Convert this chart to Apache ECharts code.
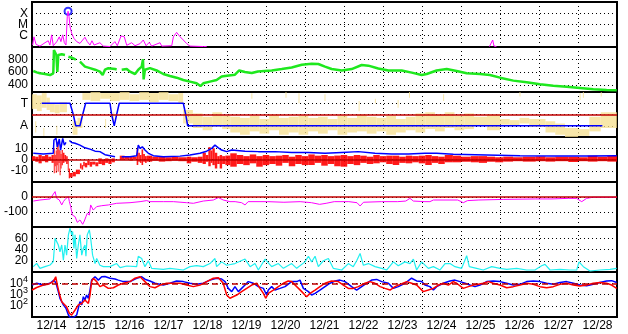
<!DOCTYPE html>
<html><head><meta charset="utf-8">
<script src="https://cdn.jsdelivr.net/npm/echarts@6/dist/echarts.min.js"></script>
<style>html,body{margin:0;padding:0;background:#fff}#c{width:628px;height:334px}</style>
</head><body><div id="c"></div><script>
// time in hours since 12/14 00:00
const dayLabels = ['12/14','12/15','12/16','12/17','12/18','12/19','12/20','12/21','12/22','12/23','12/24','12/25','12/26','12/27','12/28'];
const xrayTickLabels = {'-6':'C','-5':'M','-4':'X'};
const speedTicks = [400,600,800];
const polarityTickLabels = {'1':'T','-1':'A'};

const xrayFlux = [[0.4,1.5e-7],[1.2,8e-7],[2.5,1.7e-7],[4.9,1.2e-7],[8,2.4e-7],[10,3.6e-7],[11,1.5e-7],[12.1,1.2e-6],[13.1,1.3e-7],[15.2,2.9e-7],[16.8,8e-7],[17.8,3e-7],[18.9,1.2e-6],[19.9,2.4e-7],[20.9,1.5e-7],[21.7,4.9e-5],[22.2,1.5e-4],[22.8,4.9e-5],[23.4,6.3e-6],[24.4,1.7e-6],[25.8,5.9e-7],[27.5,3e-7],[29.5,2.1e-7],[31.2,4.2e-7],[32.6,7.3e-7],[34,3e-7],[35.7,1.5e-7],[36.9,3.6e-7],[38.2,1.5e-7],[41.8,2.4e-7],[42.7,3e-7],[43.9,1.2e-7],[48,1.1e-7],[51,3e-7],[52.5,1.3e-7],[54.8,9.5e-7],[56.8,8e-7],[58.3,1.4e-7],[61.3,2.4e-7],[63.4,1.3e-7],[66.5,2e-7],[68.5,4.2e-7],[70.2,1.3e-7],[72.2,2.6e-7],[73.6,1.2e-7],[78.8,2.4e-7],[79.8,1.2e-7],[86,1.3e-7],[87,8e-7],[89,2e-6],[91,8.5e-7],[93.1,4.2e-7],[95.2,2e-7],[96.4,3e-7],[97.2,1.2e-7],[105.5,1.1e-7],[106.5,1.5e-7],[107.5,1.1e-7],[108,null],[281.5,1.1e-7],[282.5,1.5e-7],[283.5,4.2e-7],[284.3,1.2e-7],[285.1,1.8e-7],[285.8,1.1e-7]];
const flarePeak = [[22.2,1.5e-4]];

const windSpeed = [[0.8,617],[2.9,596],[4.9,581],[8,570],[11.1,554],[13.1,581],[13.5,943],[14.4,955],[15.0,865],[15.6,601],[16.2,865],[16.8,876],[18.3,876],[20.3,865],[21,null],[22.4,839],[24.5,823],[27,795],[27.5,null],[29.5,762],[32.6,684],[35.7,661],[38.8,637],[41.8,607],[43.5,554],[44.9,637],[47,661],[51.1,647],[52.1,640],[53,null],[55.2,637],[58.3,647],[60.3,607],[63.4,570],[65.4,637],[67.5,684],[68.3,799],[68.7,487],[69.5,637],[72.6,661],[76.7,625],[80.8,570],[84.9,539],[89,513],[93.1,477],[97.2,451],[101.3,425],[103.7,383],[105.4,425],[109.5,451],[113.6,477],[116.7,530],[118.8,539],[124.9,560],[127.5,625],[131,600],[135.2,585],[139,610],[143,617],[147.5,625],[153.7,647],[159.8,672],[166,715],[172.1,731],[176.2,726],[180.3,684],[184.4,647],[190.6,625],[196.7,647],[202.9,710],[207,700],[213.1,656],[219.3,625],[227.5,625],[233.7,591],[239.8,554],[242.9,570],[249,625],[255.2,647],[261.3,617],[267.5,581],[275.7,570],[281.8,554],[288,513],[296.2,467],[304.4,441],[312.6,410],[320.8,389],[329,373],[337.2,353],[345.4,332],[353.6,322],[359.8,316]];

const sectorPolarity = [[6,1],[23.4,1],[25.4,0],[26.9,-1],[29.5,-1],[31.2,0],[33,1],[48,1],[49,0],[50.6,-1],[52.1,0],[53.7,1],[93.1,1],[94.6,0],[95.8,-1],[351,-1]];
// [start h, end h, low, high]
const polarityScatter = [[0,3,0.5,1.8],[3,6,0.3,1.7],[6,9,0.6,1.9],[9,11,0.4,1.5],[11,14,0.2,1.0],[14,17,0.1,0.9],[17,21.5,0.2,1.1],[25,28,-1.8,-0.6],[28,31,-1.2,-0.3],[31,36,1.3,1.9],[36,42,1.2,2.0],[42,48,1.4,1.9],[48,54,1.2,1.9],[54,60,1.3,2.0],[60,66,1.2,1.8],[66,72,1.3,2.0],[72,78,1.1,1.9],[78,84,1.3,2.0],[84,90,1.2,1.8],[90,93,1.0,1.9],[93,99,-0.8,0.4],[99,105,-1.2,0.1],[105,111,-1.4,-0.2],[111,117,-1.1,0.2],[117,122,-1.3,-0.1],[122,128,-1.6,-0.2],[128,134,-1.8,-0.3],[134,140,-1.5,-0.1],[140,146,-1.7,-0.4],[146,152,-1.4,0.0],[152,158,-1.8,-0.3],[158,164,-1.6,-0.2],[164,170,-1.8,-0.1],[170,176,-1.5,-0.3],[176,182,-1.7,-0.2],[182,188,-1.4,-0.4],[188,194,-1.8,-0.1],[194,200,-1.6,-0.3],[200,206,-1.5,0.0],[206,212,-1.7,-0.2],[212,218,-1.5,-0.3],[218,224,-1.8,-0.1],[224,230,-1.6,-0.4],[230,236,-1.4,-0.2],[236,242,-1.6,0.1],[242,248,-1.3,0.2],[248,254,-1.5,0.0],[254,260,-1.2,0.2],[260,266,-1.4,-0.1],[266,272,-1.3,0.1],[272,280,-1.0,-0.2],[280,288,-1.4,0.0],[288,294,-0.9,-0.4],[294,300,-1.0,-0.5],[300,306,-0.8,-0.3],[306,316,-1.1,-0.4],[316,322,-1.6,-0.6],[322,328,-1.8,-0.8],[328,336,-2.0,-1.2],[336,343,-1.9,-1.3],[343,350,-1.5,-0.2],[350,360,-1.2,0.2]];
const polarityOutliers = [[2,2.6,-1.6,-0.6],[7,7.6,-1.9,-1.2],[15,15.6,-1.8,-1.0],[45,45.6,-1.2,-0.4],[50,50.6,-0.6,0.2],[135,135.6,1.4,1.9],[156,156.6,1.5,2.0],[164,164.6,1.0,1.9],[180,180.6,1.2,1.8],[201,201.6,0.3,1.2],[211,211.6,1.0,1.4],[225,225.6,0.6,1.3],[232,232.6,1.5,2.0],[253,253.6,1.2,1.8],[300,300.6,1.6,2.0],[337,337.6,1.3,1.9],[339,339.6,1.5,2.0],[350,350.6,1.6,2.0]];

const imfBt = [[0.8,5.5],[7,4.9],[13.1,5.5],[13.5,17.3],[14.8,18.8],[15.6,11.3],[16.8,18.2],[17.6,8.4],[18.9,18.8],[19.9,12.8],[20.9,15.2],[21.5,null],[23,16.9],[24.4,15.2],[26.5,14.5],[29.5,12.8],[32.6,10.4],[35.7,9.2],[38.8,7.4],[41.8,7],[44.9,4.3],[48,3.4],[51.1,2.5],[52,null],[55.2,2.5],[60.3,2.5],[64.4,3.4],[65.4,12.8],[66.5,9.9],[67.9,11.3],[69.5,8.4],[71.6,5.5],[74.7,3.4],[80.8,2.5],[91.1,3.0],[97.2,4],[103.4,5.5],[107.5,7.4],[110.6,9.9],[112.6,12.8],[114.7,10.4],[116.7,8.4],[119.8,7],[122.9,8.4],[131.1,7.4],[139.3,7],[149.5,7],[159.8,6.3],[170.1,6.3],[180.3,5.5],[190.6,6.3],[200.8,7],[211.1,5.5],[221.4,4.9],[231.6,4.9],[241.8,5.5],[249,5.5],[259.3,4.6],[279.8,4],[300.3,3.4],[320.8,3.1],[341.3,3.1],[359.8,3.4]];
// [start h, end h, low, high]
const imfBz = [[0,2,-1,3],[2,4,-2,2.5],[4,6,-3.4,4],[6,8,-1.5,3],[8,10,-2.5,4],[10,12,-1,2.5],[12,13.4,-3,4],[13.4,14,-12.3,9.9],[14,14.6,-6,4],[14.6,15.2,-12,8],[15.2,15.8,-5,15.8],[15.8,16.4,-10.8,14],[16.4,17,-3,9],[17,17.6,-14,8],[17.6,18.2,-8,5],[18.2,19,-5,8.4],[19,20,-3,6],[20,21,-1.9,4],[21,22,-4,3],[22,22.6,-10,-1],[22.6,23.4,-16.7,-8],[23.4,25,-16,-12],[25,27,-15,-11],[27,29.5,-13,-9],[29.5,30.5,-8,-3.4],[30.5,31.5,-9,-5],[31.5,32.5,-6,-2],[32.5,34,-7,-3],[34,35.5,-5,-1],[35.5,37,-6.4,-2],[37,39,-4.5,-1.9],[39,40.8,-6,-2.5],[40.8,43,-4,1],[43,45,-5,0],[45,47,-3,1],[47,49,-4,0.5],[49,51,-2.5,1],[54,57,-0.4,3.4],[57,60,0,2.5],[60,62,-1,3],[62,64.4,0,2.5],[64.4,65.4,-4.9,9.9],[65.4,66.4,-2,6],[66.4,67.4,-3,4],[67.4,68.4,-4.9,9],[68.4,69.5,-2,5],[69.5,70.6,-3,3],[70.6,74,-1.9,3.4],[74,78,-1,2.5],[78,82,-1.9,3],[82,86,-1.5,2],[86,90,-1,2.5],[90,95.2,-1.5,2],[95.2,98,-3.4,2.5],[98,102,-2,2],[102,105,-3,2.5],[105,107,-4,6],[107,108.5,-2,4],[108.5,110,-6,11],[110,111,-3,8],[111,112.5,-5,10],[112.5,114,-8,6],[114,115.5,-4,3],[115.5,117,-8,4],[117,119,-4,3],[119,122,-5,3.5],[122,126,-6.4,5.5],[126,130,-4,4],[130,134,-5,3],[134,138,-3.4,4.5],[138,142,-6.4,3],[142,146,-5,4],[146,150,-4,3],[150,154,-5.5,3.4],[154,158,-3,4],[158,162,-6,2.5],[162,166,-4,4],[166,170,-5,3],[170,174,-4.9,4.5],[174,178,-3,3.4],[178,182,-5.5,4],[182,186,-4,3],[186,190,-6,3.5],[190,194,-6.4,4],[194,198,-4,3],[198,202,-5,4],[202,206,-3,3.4],[206,210,-4,2.5],[210,214,-3.4,4],[214,218,-2.5,3],[218,222,-4,3.4],[222,226,-4.9,3.4],[226,230,-3,2.5],[230,234,-3.4,3.4],[234,238,-2.5,3],[238,242,-3.4,3.4],[242,246,-4.9,4],[246,250,-3,3],[250,254,-4,2.5],[254,259,-2.5,4],[259,264,-2.5,3.4],[264,270,-2,2.5],[270,275,-2.5,3],[275,280,-3,3],[280,285,-2,2.5],[285,290,-2.5,2],[290,296,-1.9,2.5],[296,302,-1.5,2],[302,310,-1.9,2.5],[310,316,-1.5,2.8],[316,322,-1.9,2],[322,330,-1.5,2.5],[330,336,-2.2,2.5],[336,342,-1.5,2],[342,348,-1.9,3.4],[348,354,-1.5,2.5],[354,360,-1.9,3.4]];

const dst = [[0.8,-27],[4.9,-20],[11.1,-13],[14.2,36],[15.2,-9],[16.8,-20],[18.3,-53],[19.3,-31],[20.9,-9],[22.4,2],[23.0,-31],[23.8,-64],[24.8,-120],[26.5,-131],[27.9,-169],[29.5,-153],[31.2,-182],[32.2,-160],[33.2,-131],[34.0,-109],[35.3,-120],[36.1,-53],[37.7,-87],[39.8,-64],[42.9,-58],[47.0,-53],[52.1,-42],[60.3,-38],[66.5,-31],[70.6,-24],[72.6,-31],[80.8,-31],[87,-31],[95.2,-38],[99.3,-42],[105.4,-27],[111.6,-20],[114.7,-4],[117.7,-20],[121.8,-31],[125,-31],[129,-38],[131.1,-53],[133,-31],[145,-31],[155,-35],[165,-31],[172,-38],[177,-49],[181,-42],[186,-31],[195,-31],[200,-38],[201.9,-60],[204,-35],[215,-31],[225,-31],[230,-27],[232.6,-9],[234.7,-27],[241.8,-31],[244.9,-31],[247,-20],[262,-20],[265.4,-38],[268,-24],[275,-20],[290,-16],[310,-13],[320,-13],[330,-9],[335,-9],[338.3,-31],[341.3,-9],[345,-2],[360,-2]];

const cyanIndex = [[0.8,9.5],[2.9,15.4],[4.9,6.5],[8.0,9.5],[11.1,12.4],[13.1,18.4],[14.2,60],[15.2,54],[16.2,48],[17.2,36],[18.3,48],[19.3,21],[20.3,48],[21.3,30],[22.4,66],[23.4,78],[24.4,66],[25.0,72],[25.8,42],[26.5,66],[27.5,24],[28.5,48],[29.5,66],[30.6,30],[31.6,42],[32.6,48],[33.2,28],[34.0,66],[35.3,75],[36.1,60],[37.3,30],[38.8,15],[39.8,24],[41.8,12],[43.9,9.5],[48.0,9.5],[52.1,15],[54.2,7.7],[58.3,10.7],[64.4,9.5],[65.4,28],[67.5,24],[69.5,9.5],[71.6,20],[73.6,6.5],[80.8,4.7],[84.9,6.5],[93.1,3.6],[97.2,9.5],[101.3,11.3],[105.4,9.5],[109.5,15],[112.6,24],[113.6,9.5],[116.7,18],[119.8,12],[120.8,15],[124.9,15],[131.1,23],[134.2,9.5],[137.2,15],[139.3,3.6],[143.4,23],[147.5,9.5],[151.6,15],[154.7,6.5],[159.8,15],[162.9,6.5],[168,18],[170.1,28],[172.1,18],[174.2,28],[176.2,9.5],[179.3,20],[182.4,24],[185.4,6.5],[190.6,3.6],[194.7,15],[197.7,9.5],[199.8,20],[201.9,33],[203.9,12],[207,15],[211.1,9.5],[215.2,6.5],[218.3,3.6],[222.4,18],[225.4,11],[229.5,18],[232.6,15],[234.7,23],[236.7,3.6],[239.8,18],[243.9,6.5],[247,9.5],[251.1,3.6],[254.2,15],[257.2,15],[260.3,9.5],[264.4,6.5],[267.5,29],[269.1,9.5],[273.6,6.5],[277.7,3.6],[282.9,9.5],[288,6.5],[292.1,4.7],[298.3,6.5],[304.4,3.6],[309.5,3.6],[313.6,11],[315.7,13.6],[318.8,3.6],[324.9,4.7],[331.1,3.6],[335.2,3.6],[336.6,18],[339.3,9.5],[343.4,1.8],[349.5,3.6],[355.7,4.7],[359.8,6.5]];

const electronBlue = [[0,6.9e3],[2.9,1e4],[7,6.9e3],[11.1,1e4],[13.5,1.9e4],[14.8,1e4],[16.2,1.8e3],[17.2,4.6e2],[18.3,2.3e2],[19.3,1.2e2],[20.9,59],[22.4,15],[23.4,9],[25.4,9],[27.5,15],[28.5,59],[29.5,230],[30.6,120],[31.6,630],[32.6,320],[33.6,900],[34.7,460],[35.7,2.5e3],[36.7,1.9e4],[38.8,3.8e4],[40.8,1.9e4],[42.9,3.8e4],[44.9,4e4],[48,2.8e4],[51.1,2.4e4],[53.1,1.9e4],[56.2,1.4e4],[60.3,1.4e4],[64.4,2.8e4],[67.5,3.8e4],[69.5,2.3e4],[72.6,1.6e4],[75.7,1e4],[80.8,6.9e3],[84.9,1e4],[89,1.6e4],[93.1,1.4e4],[97.2,1e4],[101.3,8e3],[105.4,1e4],[109.5,1.9e4],[113.6,2.8e4],[116.7,2.4e4],[118.8,1.4e4],[120.8,3.5e3],[122.9,1.8e3],[124.9,5e3],[127,1.8e3],[129,3.5e3],[131.1,6.9e3],[133.1,1.4e4],[136.2,1e4],[139.3,5e3],[142.4,3.5e3],[144.4,9e2],[145.4,2.5e3],[147.5,5e3],[149.5,2.5e3],[152.6,3.5e3],[155.7,5e3],[159.8,1.4e4],[162.9,1.4e4],[164.9,1.9e4],[167,3.5e3],[170.1,1.8e3],[172.1,9e2],[174.2,1.26e3],[177.2,2.5e3],[180.3,5e3],[183.4,1e4],[186.5,1.6e4],[189.5,1.9e4],[192.6,1.4e4],[196.7,5e3],[199.8,2.5e3],[202.9,5e3],[206,1e4],[209,1.9e4],[212.1,2.2e4],[215.2,1.4e4],[219.3,1e4],[222.4,3.5e3],[225.4,5e3],[229.5,1e4],[233.6,2.8e4],[236.7,1.6e4],[239.8,1.4e4],[241.8,6.9e3],[244.9,5e3],[247,2.5e3],[249,5e3],[253.1,1e4],[257.2,1.6e4],[260.3,1.9e4],[263.4,1.4e4],[266.5,1e4],[269.5,6.9e3],[272.6,5e3],[275.7,6.9e3],[279.8,1.4e4],[283.9,1.6e4],[288,1.4e4],[292.1,1e4],[296.2,6.9e3],[300.3,8e3],[304.4,1.4e4],[308.5,1.6e4],[312.6,1.4e4],[316.7,1e4],[320.8,8e3],[324.9,1.15e4],[329,1.4e4],[333.1,1e4],[337.2,6.9e3],[341.3,6e3],[345.4,8e3],[349.5,1.15e4],[353.6,1.6e4],[356.7,1.7e4],[359.8,1.15e4]];

const electronRed = [[0,2.5e3],[2.9,4.2e3],[7,6.9e3],[9.9,8e3],[13.1,1.4e4],[14.6,3.8e4],[15.6,6.9e3],[16.8,1.26e3],[18.3,2.3e2],[19.3,3.2e2],[21.3,80],[23.0,21],[24.4,15],[26.5,42],[28.5,120],[30.6,160],[32.6,320],[34.7,160],[35.7,900],[36.7,1.4e4],[37.7,2.8e4],[39.8,1.4e4],[41.8,5e3],[43.9,6.9e3],[47,3.5e3],[50.1,4e3],[53.1,6.9e3],[56.2,1e4],[60.3,1.4e4],[63.4,2.8e4],[66.5,3.8e4],[69.5,1.4e4],[72.6,5e3],[75.7,4e3],[78.8,6.9e3],[82.9,1e4],[87,1e4],[91.1,1e4],[95.2,6.9e3],[99.3,5e3],[103.4,6.9e3],[107.5,1.4e4],[111.6,2.8e4],[114.7,3.1e4],[117.7,1e4],[119.8,9e2],[121.8,4.6e2],[122.9,3.2e2],[126,9e2],[129,1.8e3],[132.1,3.5e3],[135.2,6.9e3],[138.3,1e4],[140.3,3.5e3],[142.4,1.26e3],[143.8,4.6e2],[145.4,1.26e3],[148.5,2.5e3],[151.6,5e3],[154.7,1e4],[157.7,1.6e4],[159.8,1.4e4],[162.9,5e3],[166,1.8e3],[169,6.3e2],[171.1,1.26e3],[174.2,2.5e3],[177.2,5e3],[180.3,1e4],[184.4,1.6e4],[188.5,1.4e4],[191.6,6.9e3],[194.7,3.5e3],[197.7,3.5e3],[200.8,5e3],[204.9,1e4],[208,1.4e4],[211.1,1e4],[214.2,5e3],[217.2,3.5e3],[220.3,2.5e3],[223.4,5e3],[226.5,8e3],[230.6,1.4e4],[233.6,1e4],[236.7,6.9e3],[238.8,3.5e3],[240.8,1.8e3],[243.9,2.5e3],[247,3.5e3],[250.1,6.9e3],[253.1,1e4],[256.2,6.9e3],[259.3,1.4e4],[261.3,1e4],[265.4,3.5e3],[268.5,5e3],[271.6,6.9e3],[274.7,8e3],[277.7,1e4],[280.8,1.4e4],[283.9,1e4],[288,6.9e3],[292.1,4e3],[296.2,5e3],[300.3,6.9e3],[304.4,1e4],[308.5,8e3],[312.6,5e3],[316.7,4e3],[320.8,5e3],[324.9,8e3],[329,1e4],[333.1,6.9e3],[337.2,5.6e3],[341.3,6.9e3],[345.4,1e4],[349.5,1.15e4],[353.6,1e4],[356.7,6.9e3],[359.8,3.5e3]];

const FONT = "'Liberation Sans', Arial, sans-serif";
const chart = echarts.init(document.getElementById('c'), null, {renderer: 'canvas'});
const TOPS = [2, 47, 92, 137, 182, 227, 272];
const grids = TOPS.map(t => ({left: 32, right: 11, top: t, height: 45, show: true, borderColor: '#000', borderWidth: 2, backgroundColor: 'transparent'}));
const dotted = {show: true, lineStyle: {color: '#000', width: 1, type: [1, 3]}};
const xAxes = TOPS.map((t, i) => ({type: 'value', gridIndex: i, min: 0, max: 360, interval: 24,
  axisLabel: {show: false}, axisTick: {show: false}, axisLine: {show: false}, splitLine: dotted}));
xAxes.push({type: 'category', gridIndex: 6, data: dayLabels, boundaryGap: true, position: 'bottom',
  axisLine: {show: false}, axisTick: {show: false}, splitLine: {show: false},
  axisLabel: {color: '#000', fontSize: 12, fontFamily: FONT, margin: 3, interval: 0}});
const yLab = (fmt, extra) => Object.assign({color: '#000', fontSize: 12, fontFamily: FONT, margin: 4, formatter: fmt}, extra || {});
const baseY = {axisLine: {show: false}, axisTick: {show: false}, splitLine: dotted};
const yAxes = [
  Object.assign({}, baseY, {type: 'log', gridIndex: 0, min: 1e-7, max: 1e-3, logBase: 10,
    axisLabel: yLab(v => xrayTickLabels[String(Math.round(Math.log10(v)))] || '')}),
  Object.assign({}, baseY, {type: 'value', gridIndex: 1, min: 290, max: 990,
    axisTick: {show: false, customValues: speedTicks},
    axisLabel: yLab(v => speedTicks.indexOf(v) >= 0 ? String(v) : '', {customValues: speedTicks})}),
  Object.assign({}, baseY, {type: 'value', gridIndex: 2, min: -2, max: 2, interval: 1,
    axisLabel: yLab(v => polarityTickLabels[String(v)] || '')}),
  Object.assign({}, baseY, {type: 'value', gridIndex: 3, min: -20, max: 20, interval: 10,
    axisLabel: yLab(v => (v === 10 || v === 0 || v === -10) ? String(v) : '')}),
  Object.assign({}, baseY, {type: 'value', gridIndex: 4, min: -200, max: 100, interval: 100,
    axisLabel: yLab(v => (v === 0 || v === -100) ? String(v) : '')}),
  Object.assign({}, baseY, {type: 'value', gridIndex: 5, min: 0, max: 80, interval: 20,
    axisLabel: yLab(v => (v > 0 && v < 80) ? String(v) : '')}),
  Object.assign({}, baseY, {type: 'log', gridIndex: 6, min: 10, max: 1e5, logBase: 10,
    axisLabel: yLab(v => { const e = Math.round(Math.log10(v)); return (e >= 2 && e <= 4) ? '{b|10}{s|' + e + '}' : ''; },
      {rich: {b: {fontSize: 12, fontFamily: FONT, color: '#000'}, s: {fontSize: 9, fontFamily: FONT, color: '#000', padding: [0, 0, 8, 0]}}})})
];
const lineS = (xi, data, color, width, extra) => Object.assign({type: 'line', xAxisIndex: xi, yAxisIndex: xi, data: data,
  showSymbol: false, symbol: 'none', connectNulls: false, animation: false, silent: true, clip: true,
  lineStyle: {color: color, width: width}, itemStyle: {color: color}}, extra || {});
const bandS = (xi, data, color, opacity) => ({type: 'custom', xAxisIndex: xi, yAxisIndex: xi, data: data, animation: false, silent: true, clip: true,
  encode: {x: [0, 1], y: [2, 3]},
  renderItem: (params, api) => {
    const a = api.coord([api.value(0), api.value(3)]);
    const b = api.coord([api.value(1), api.value(2)]);
    return {type: 'rect', shape: {x: a[0], y: a[1], width: b[0] - a[0], height: b[1] - a[1]}, style: {fill: color, opacity: opacity}};
  }});
const zeroLine = (xi, yv, color, type) => ({type: 'line', xAxisIndex: xi, yAxisIndex: xi, data: [], animation: false, silent: true,
  markLine: {silent: true, symbol: 'none', animation: false, label: {show: false}, lineStyle: {color: color, width: 1.5, type: type || 'solid'}, data: [{yAxis: yv}]}});

const series = [
  lineS(0, xrayFlux, '#ff00ff', 1),
  {type: 'scatter', xAxisIndex: 0, yAxisIndex: 0, data: flarePeak, symbol: 'emptyCircle', symbolSize: 7, animation: false, silent: true,
    itemStyle: {color: '#0000ff', borderColor: '#0000ff', borderWidth: 1}},
  lineS(1, windSpeed, '#1ee81e', 2.5),
  lineS(2, sectorPolarity, '#0000ff', 1.5),
  bandS(2, polarityScatter, '#f5df8e', 0.75),
  bandS(2, polarityOutliers, '#f5df8e', 0.8),
  zeroLine(2, 0, '#c00000'),
  lineS(3, imfBt, '#0000ff', 1.5),
  bandS(3, imfBz, '#ff0000', 0.9),
  zeroLine(3, 0, '#c00000'),
  lineS(4, dst, '#ff00ff', 1),
  zeroLine(4, 0, '#c00000'),
  lineS(5, cyanIndex, '#20f0f0', 1.2),
  zeroLine(6, 1e4, '#c00000', [6, 4]),
  lineS(6, electronBlue, '#0000ff', 1.5),
  lineS(6, electronRed, '#ff0000', 1.5)
];

chart.setOption({animation: false, backgroundColor: '#fff', grid: grids, xAxis: xAxes, yAxis: yAxes, series: series});
</script></body></html>
